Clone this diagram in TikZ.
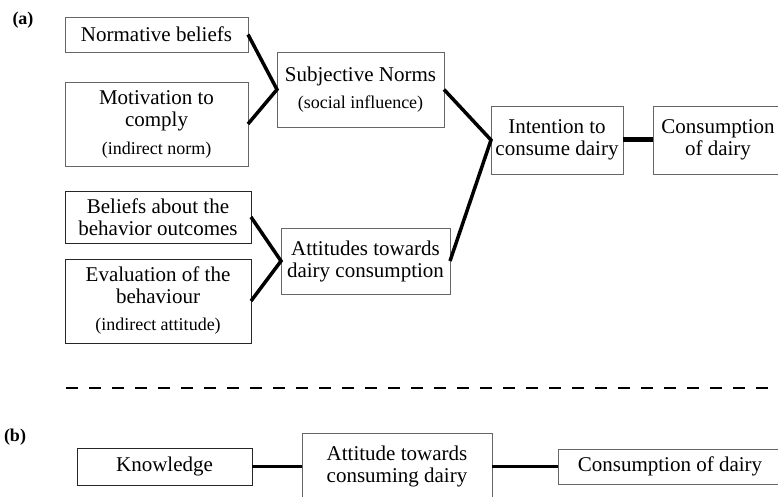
\documentclass[tikz,border=0pt]{standalone}
\usepackage{fontspec}
\setmainfont{Liberation Serif}
\usetikzlibrary{positioning, calc}

\newcommand{\bigtxt}{\fontsize{21}{22}\selectfont}
\newcommand{\smalltxt}{\fontsize{18}{20}\selectfont}

\begin{document}
\begin{tikzpicture}[x=1pt, y=-1pt,
    box/.style={draw=black!60, line width=0.9pt, inner sep=0pt, outer sep=0pt,
                align=center, font=\bigtxt},
    darkbox/.style={box, draw=black!85},
    link/.style={line width=3.5pt, line join=miter},
    heavy/.style={line width=5pt}]
    \useasboundingbox (0,0) rectangle (778,497);

    % Panel labels
    \node[font=\fontsize{18}{20}\selectfont\bfseries] (lbla) at (23,20) {(a)};
    \node[font=\fontsize{18}{20}\selectfont\bfseries] (lblb) at (15,437) {(b)};

    % Norm side
    \node[box, minimum width=183, minimum height=35] (norm) at (156.5,34.5) {Normative beliefs};
    \node[box, minimum width=183, minimum height=84] (motiv) at (156.5,124)
        {Motivation to\\comply\\[6pt]{\smalltxt (indirect norm)}};
    \node[box, minimum width=167, minimum height=75] (subj) at (360.5,89.5)
        {Subjective Norms\\[5pt]{\smalltxt (social influence)}};

    % Attitude side
    \node[darkbox, minimum width=186, minimum height=52] (belief) at (158,217)
        {Beliefs about the\\behavior outcomes};
    \node[darkbox, minimum width=186, minimum height=84] (eval) at (158,301)
        {Evaluation of the\\behaviour\\[5pt]{\smalltxt (indirect attitude)}};
    \node[box, minimum width=169, minimum height=66] (att) at (365.5,261)
        {Attitudes towards\\dairy consumption};

    % Intention and behaviour
    \node[box, minimum width=132, minimum height=68] (intent) at (557,140)
        {Intention to\\consume dairy};
    \node[box, minimum width=130, minimum height=68] (cons) at (718,140)
        {Consumption\\of dairy};

    % Connectors (a)
    \draw[link] (norm.east) -- (subj.west) -- (motiv.east);
    \draw[link] (belief.east) -- (att.west) -- (eval.east);
    \draw[link] (subj.east) -- (intent.west) -- (att.east);
    \draw[heavy] (intent) -- (cons);

    % Separator
    \coordinate (sepl) at (66,388);
    \coordinate (sepr) at (778,388);
    \draw[line width=2pt, dash pattern=on 12pt off 11pt] (sepl) -- (sepr);

    % Panel (b)
    \node[darkbox, minimum width=175, minimum height=37] (know) at (164.5,466.5) {Knowledge};
    \node[box, minimum width=190, minimum height=67] (attb) at (397,466.5)
        {Attitude towards\\consuming dairy};
    \node[box, minimum width=224, minimum height=35] (consb) at (670,466.5)
        {Consumption of dairy};
    \draw[link] (know) -- (attb);
    \draw[link] (attb) -- (consb);
\end{tikzpicture}
\end{document}
